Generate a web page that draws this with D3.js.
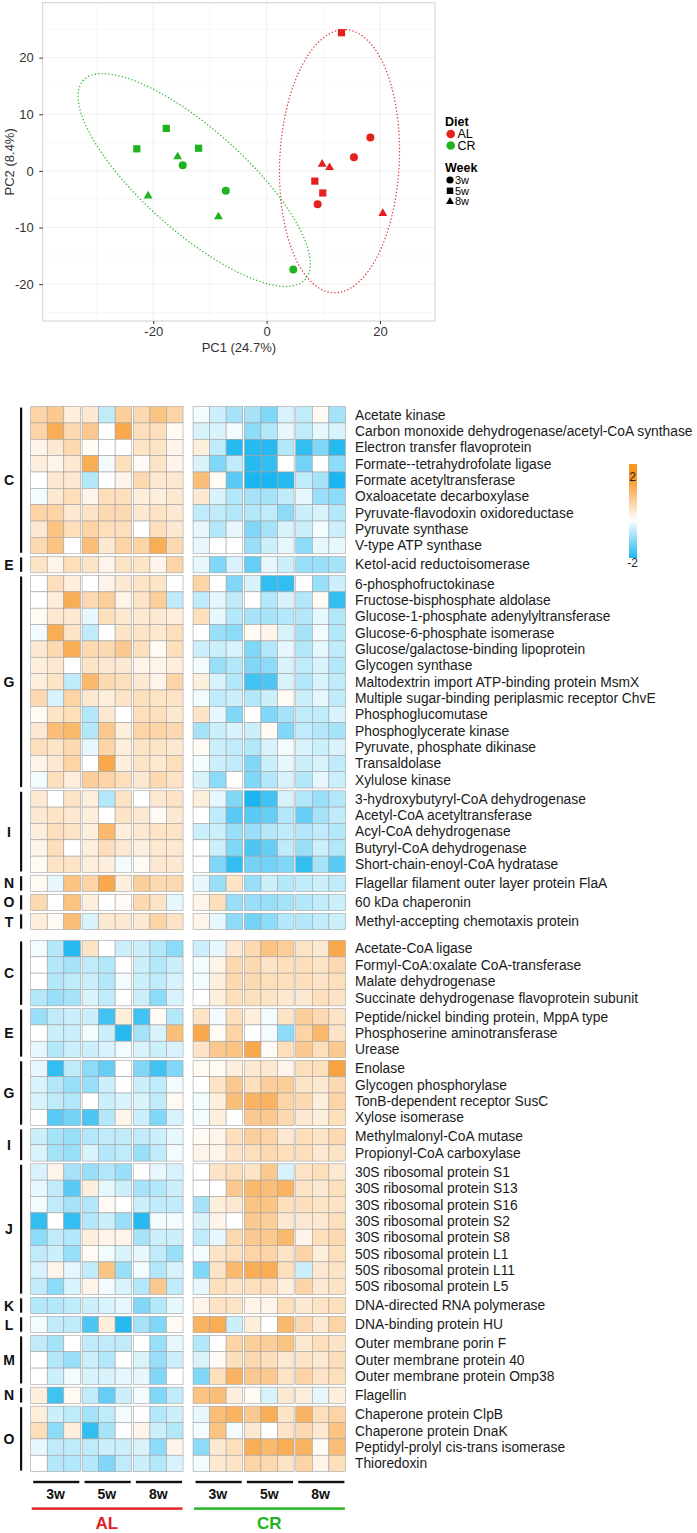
<!DOCTYPE html>
<html><head><meta charset="utf-8">
<script src="https://cdn.jsdelivr.net/npm/d3@7"></script>
<style>body{margin:0;background:#fff} svg{display:block;font-family:"Liberation Sans",Arial,Helvetica,sans-serif}</style>
</head><body><svg id="chart" width="697" height="1533"></svg>
<script>
// ---------------- PCA data ----------------
const pcaDiet = ["CR","CR","CR","CR","CR","CR","CR","CR","CR","AL","AL","AL","AL","AL","AL","AL","AL","AL"];
const pcaWeek = ["5w","5w","5w","8w","3w","3w","8w","8w","3w","5w","3w","3w","8w","8w","5w","5w","3w","8w"];
const pcaPC1 = [-22.9,-17.7,-12.0,-15.7,-14.8,-7.2,-20.9,-8.5,4.7, 13.2,18.3,15.4,9.8,11.1,8.5,9.9,9.0,20.5];
const pcaPC2 = [3.9,7.5,4.0,2.5,1.0,-3.5,-4.4,-8.1,-17.4, 24.4,5.9,2.4,1.2,0.6,-1.8,-3.9,-5.9,-7.5];
const pcaXTicks = [-20,0,20];
const pcaYTicks = [-20,-10,0,10,20];
const dietLevels = ["AL","CR"];
const weekLevels = ["3w","5w","8w"];

// ---------------- Heatmap data ----------------
const colDiet = ["AL","AL","AL","AL","AL","AL","AL","AL","AL","CR","CR","CR","CR","CR","CR","CR","CR","CR"];
const colWeek = ["3w","3w","3w","5w","5w","5w","8w","8w","8w","3w","3w","3w","5w","5w","5w","8w","8w","8w"];

const topGroups = ["C","E","G","I","N","O","T"];
const topGroupSizes = [9,1,13,5,1,1,1];
const topProteins = [
 "Acetate kinase","Carbon monoxide dehydrogenase/acetyl-CoA synthase","Electron transfer flavoprotein",
 "Formate--tetrahydrofolate ligase","Formate acetyltransferase","Oxaloacetate decarboxylase",
 "Pyruvate-flavodoxin oxidoreductase","Pyruvate synthase","V-type ATP synthase",
 "Ketol-acid reductoisomerase",
 "6-phosphofructokinase","Fructose-bisphosphate aldolase","Glucose-1-phosphate adenylyltransferase",
 "Glucose-6-phosphate isomerase","Glucose/galactose-binding lipoprotein","Glycogen synthase",
 "Maltodextrin import ATP-binding protein MsmX","Multiple sugar-binding periplasmic receptor ChvE",
 "Phosphoglucomutase","Phosphoglycerate kinase","Pyruvate, phosphate dikinase","Transaldolase","Xylulose kinase",
 "3-hydroxybutyryl-CoA dehydrogenase","Acetyl-CoA acetyltransferase","Acyl-CoA dehydrogenase",
 "Butyryl-CoA dehydrogenase","Short-chain-enoyl-CoA hydratase",
 "Flagellar filament outer layer protein FlaA","60 kDa chaperonin","Methyl-accepting chemotaxis protein"
];
const topValues = [
 [0.8,1.0,0.3, 0.4,-0.5,0.9, 0.7,1.1,0.8, -0.1,-0.4,-0.7, -0.7,-1.0,-0.3, -0.5,0.1,-0.7],
 [0.8,1.5,0.7, 1.0,0.0,1.6, 0.6,0.6,0.1, -0.3,-0.3,-0.1, -0.9,-0.6,-0.2, -0.5,-0.2,-0.3],
 [0.2,0.4,0.7, 0.1,0.0,0.0, 0.5,0.5,0.2, 0.3,-0.5,-1.7, -1.7,-1.7,-0.6, -1.6,-1.0,-1.7],
 [0.3,0.2,0.4, 1.5,-0.1,0.6, 0.1,0.5,0.2, -0.3,-1.0,-0.5, -1.7,-1.6,0.0, -1.1,0.0,-0.9],
 [0.0,0.4,0.4, -0.6,0.0,0.2, 0.7,0.4,0.4, 1.2,0.1,-1.3, -1.8,-1.8,-1.7, -0.5,-0.7,-1.8],
 [-0.1,0.4,0.6, 0.2,0.6,0.6, 0.3,0.3,0.4, 0.4,-0.3,-0.6, -0.7,-0.7,-0.5, -0.2,-0.8,-0.9],
 [0.8,0.8,0.4, 0.5,0.7,0.7, 0.4,0.5,0.4, -0.5,-0.5,-0.6, -0.6,-0.5,-0.9, -0.4,-0.3,-0.6],
 [0.4,1.1,0.6, 0.8,0.6,0.6, 0.0,0.6,0.4, -0.2,-0.6,-0.2, -1.0,-0.7,-0.3, -0.4,-0.1,-0.4],
 [0.7,1.1,0.0, 1.2,0.4,0.8, 0.8,1.5,0.7, -0.2,0.0,0.0, -0.8,-0.4,-0.2, -0.9,-0.2,-0.2],
 [0.5,0.2,0.6, 0.5,0.2,0.5, 0.5,0.2,0.8, -0.2,-1.0,-0.3, -1.2,-0.2,-0.4, -0.8,-0.8,-0.7],
 [0.0,0.6,0.3, 0.0,0.2,0.4, 0.5,0.5,0.0, 0.8,0.0,-1.0, -0.3,-1.6,-1.6, 0.0,-0.8,-0.4],
 [0.0,0.3,1.5, 0.7,0.9,0.2, 0.5,0.9,-0.5, -0.5,-0.2,-0.5, 0.0,-0.6,-0.3, -0.6,0.1,-1.6],
 [0.1,0.4,0.4, -0.2,0.6,0.4, 0.4,0.4,0.3, 0.6,-0.2,-0.6, -0.7,-0.7,-0.6, -0.6,-0.2,-0.6],
 [-0.1,1.5,0.5, -0.5,0.0,0.5, 0.5,0.4,0.6, 0.0,-0.8,-0.9, 0.1,0.2,-0.3, -0.7,-0.1,-0.6],
 [0.4,0.7,1.5, 0.7,0.7,1.0, 0.6,0.1,0.6, -0.4,-0.4,-0.3, -1.0,-0.6,-0.2, -0.6,-0.2,-0.5],
 [0.3,0.4,0.0, 0.5,0.4,0.4, 0.2,0.2,0.3, -0.1,-0.8,-0.6, -1.0,-0.9,-0.3, -0.5,-0.3,-0.6],
 [0.3,0.5,-0.5, 1.3,0.7,0.6, 0.4,0.2,0.8, 0.3,-0.3,-0.6, -1.5,-1.4,-0.3, -0.6,-0.3,-0.5],
 [0.7,-0.3,0.8, 0.4,0.3,0.5, 0.6,0.5,0.5, -0.1,-0.5,-0.4, -0.6,-0.4,0.1, -0.4,-0.2,-0.5],
 [0.1,0.5,0.6, -0.6,0.4,0.0, 0.6,0.6,0.4, 0.5,-0.2,-1.0, 0.0,-1.0,-0.7, -0.5,-0.5,-0.3],
 [0.4,1.2,1.3, -0.6,1.0,0.3, 0.8,0.8,0.7, -0.7,-0.4,-0.3, -0.4,0.1,-1.0, -0.5,-0.6,-0.7],
 [0.6,0.5,0.7, -0.2,0.8,0.3, 0.5,0.5,0.4, 0.1,-0.4,-0.5, -0.6,-0.3,-0.1, -0.3,-0.4,-0.3],
 [0.2,0.4,0.8, 0.0,1.6,0.3, 0.5,0.4,0.6, -0.1,-0.4,-0.5, -1.0,-0.4,-0.2, -0.4,-0.3,-0.5],
 [-0.1,0.6,0.3, 0.9,0.8,0.6, 0.4,0.7,0.5, -0.3,-0.9,0.0, -1.0,-0.6,-0.3, -0.6,-0.2,-0.4],
 [0.4,0.0,0.5, 0.3,-0.6,0.5, 0.0,0.4,0.5, 0.3,-0.2,-1.0, -1.8,-1.5,-0.3, -0.6,-0.8,-0.6],
 [0.4,0.5,0.4, 0.3,0.0,0.5, 0.4,0.1,0.4, 0.0,-0.5,-1.3, -1.3,-1.2,-0.6, -1.2,-0.7,-0.5],
 [0.3,0.6,0.5, 0.3,1.3,0.3, 0.4,0.5,0.5, -0.4,-0.4,-0.8, -0.8,-0.6,-0.5, -0.6,-0.5,-0.6],
 [0.2,0.6,0.0, 0.3,0.6,0.4, 0.3,0.4,0.4, 0.0,-0.4,-1.0, -1.4,-1.2,-0.5, -0.8,-0.4,-0.6],
 [0.1,0.5,0.5, 0.3,0.3,-0.1, 0.1,0.4,0.4, 0.0,-1.0,-1.6, -1.1,-1.1,-1.0, -1.6,-0.7,-1.3],
 [0.1,-0.2,1.1, 0.8,1.6,0.3, 0.9,0.7,0.7, -0.2,-0.8,0.5, -0.8,-0.4,-0.6, -0.5,-0.4,-0.5],
 [0.7,0.0,1.1, 0.3,0.0,0.1, 0.7,0.5,-0.2, 0.2,0.6,-0.8, -0.8,-0.8,-0.7, -0.6,-0.5,-0.4],
 [0.3,0.1,1.2, -0.3,0.4,0.4, 0.4,0.8,0.5, 0.2,-0.2,-0.9, -1.1,-0.9,-0.6, -0.6,-0.5,-0.4]
];

const bottomGroups = ["C","E","G","I","J","K","L","M","N","O"];
const bottomGroupSizes = [4,3,4,2,8,1,1,3,1,4];
const bottomProteins = [
 "Acetate-CoA ligase","Formyl-CoA:oxalate CoA-transferase","Malate dehydrogenase","Succinate dehydrogenase flavoprotein subunit",
 "Peptide/nickel binding protein, MppA type","Phosphoserine aminotransferase","Urease",
 "Enolase","Glycogen phosphorylase","TonB-dependent receptor SusC","Xylose isomerase",
 "Methylmalonyl-CoA mutase","Propionyl-CoA carboxylase",
 "30S ribosomal protein S1","30S ribosomal protein S13","30S ribosomal protein S16","30S ribosomal protein S2",
 "30S ribosomal protein S8","50S ribosomal protein L1","50S ribosomal protein L11","50S ribosomal protein L5",
 "DNA-directed RNA polymerase","DNA-binding protein HU",
 "Outer membrane porin F","Outer membrane protein 40","Outer membrane protein Omp38",
 "Flagellin",
 "Chaperone protein ClpB","Chaperone protein DnaK","Peptidyl-prolyl cis-trans isomerase","Thioredoxin"
];
const bottomValues = [
 [-0.1,-0.6,-1.7, 0.5,0.0,-0.4, -0.4,-0.6,-0.9, -0.4,-0.2,0.4, 0.7,1.1,0.9, 0.5,0.4,1.6],
 [0.0,-0.6,-0.7, -0.5,-0.6,0.0, -0.4,-0.6,-0.4, -0.1,0.2,0.7, 0.7,0.5,0.6, 0.6,0.5,0.7],
 [0.0,-0.6,-0.5, -0.4,-0.6,-0.1, -0.4,-0.5,-0.3, -0.1,0.3,0.7, 0.7,0.6,0.6, 0.6,0.5,0.6],
 [-0.6,-0.8,-0.7, -0.3,-0.5,0.0, -0.4,-0.9,-0.3, 0.0,0.3,0.6, 0.6,0.5,0.4, 0.4,0.6,0.5],
 [-0.8,-0.5,-0.4, -0.4,-1.5,0.3, -1.5,0.1,-0.6, 0.5,-0.1,0.6, 0.3,-0.1,0.5, 0.9,0.7,0.5],
 [0.0,-0.4,-0.4, -0.1,-0.4,-1.7, -0.7,-0.3,1.2, 1.6,0.1,0.8, 0.0,-0.1,-0.9, 0.8,1.3,0.5],
 [-0.2,-0.6,-0.4, -0.4,-0.3,-0.1, -0.3,-0.4,-0.3, 0.5,1.0,1.1, 1.6,0.1,0.6, 1.0,0.6,1.0],
 [-0.2,-1.6,-0.5, -0.9,-1.2,0.0, -1.0,-1.5,-1.0, 0.1,0.1,0.3, 0.4,0.4,0.2, 0.6,0.6,1.7],
 [-0.3,-0.6,-0.8, -0.8,-0.4,0.0, -0.4,-0.5,-0.1, 0.0,0.5,1.0, 0.6,0.9,0.9, 0.5,0.4,0.7],
 [-0.3,-0.5,-0.6, 0.0,-0.4,-0.3, -0.3,-0.5,0.1, -0.1,0.3,1.2, 1.4,1.4,0.8, 0.7,0.3,0.8],
 [0.0,-1.3,-1.1, -1.4,-0.6,0.2, -0.4,-1.0,-0.3, -0.1,0.3,0.0, 1.0,1.0,0.7, 0.4,0.3,0.6],
 [-0.4,-0.7,-0.8, -0.6,-0.5,-0.5, -0.5,-0.4,-0.2, 0.1,0.2,0.6, 0.9,0.8,0.4, 0.6,0.5,0.7],
 [-0.3,-0.7,-0.8, -0.3,-0.6,-0.5, -0.8,-0.5,-0.1, 0.2,0.2,0.5, 0.6,0.7,0.6, 0.6,0.4,0.5],
 [-0.3,0.2,-0.7, -0.8,-0.6,-0.8, 0.0,-0.2,-0.3, 0.0,0.5,0.6, 0.5,1.0,-0.3, 0.5,0.6,0.4],
 [-0.2,-0.5,-1.3, 0.3,-0.2,-0.4, -0.7,-0.6,-0.4, 0.0,0.0,1.0, 1.3,1.2,1.4, 0.5,0.4,0.6],
 [-0.1,-0.5,-0.7, -0.6,0.1,0.0, -0.4,-0.5,-0.5, -0.7,0.3,0.4, 1.1,1.1,0.6, 0.6,0.5,0.5],
 [-1.6,0.0,-1.6, -0.6,-0.4,-0.8, -1.7,-0.1,-0.1, -0.3,0.2,0.0, 1.0,0.9,0.4, 0.4,0.4,0.6],
 [-0.9,-0.5,-0.6, 0.3,0.2,0.2, -0.7,-0.4,-0.4, -0.5,-0.2,0.7, 1.0,1.0,1.3, 0.2,0.6,0.7],
 [-0.5,-0.4,-0.8, 0.1,-0.1,-0.3, -0.2,-0.5,-0.8, -0.1,0.5,0.6, 0.8,0.8,0.5, 0.8,0.3,0.6],
 [-0.3,0.2,-0.2, -0.5,1.1,-0.8, -0.1,-0.6,-0.3, -1.0,0.5,1.3, 1.5,1.5,0.6, -0.4,0.4,0.5],
 [-0.5,-0.9,-0.3, 0.2,-0.1,-0.3, -0.6,1.0,-0.5, -0.2,0.6,0.5, 0.6,0.6,0.3, 0.8,0.4,0.5],
 [-0.6,-0.6,-0.5, -0.4,-0.3,-0.2, -1.0,-0.6,-0.2, 0.2,0.5,0.5, 0.2,0.2,0.6, 0.4,0.5,0.6],
 [-0.1,-0.5,-0.5, -1.4,0.3,-1.7, -0.7,-1.0,0.1, 1.4,1.5,-0.4, 0.3,0.0,1.3, 0.7,0.4,0.8],
 [-0.5,-0.7,0.0, -0.5,-0.5,-0.5, 0.0,-0.8,-0.2, -0.6,0.0,0.8, 0.9,0.9,1.1, 0.4,0.6,0.5],
 [0.0,-0.6,-0.8, -0.4,-0.6,0.0, -0.3,-0.8,-0.4, -0.3,0.1,0.6, 0.7,0.6,0.4, 0.5,0.4,0.6],
 [0.0,-0.4,-0.1, -0.3,-0.3,-0.2, -0.2,-1.0,0.0, -1.0,0.6,1.4, 1.0,1.0,0.5, 0.8,0.5,0.6],
 [0.3,-1.5,0.1, -0.5,-1.2,-0.4, -0.1,-1.0,-0.5, 1.1,1.2,0.3, 0.1,-0.3,0.4, 0.3,-0.2,0.3],
 [0.3,-0.4,-0.5, -0.7,-0.5,-0.1, 0.0,-0.6,-0.4, -0.2,1.2,1.4, 1.0,1.5,0.5, 1.4,0.6,0.8],
 [0.6,-0.9,0.3, -1.6,-0.7,0.0, 0.2,-0.4,-0.6, -0.1,1.1,-0.1, 0.4,0.0,0.5, 0.7,0.4,1.1],
 [-0.2,-0.5,-0.5, -0.5,-0.4,-0.4, -0.3,-0.9,0.2, -0.9,0.4,0.6, 1.5,1.3,1.5, 1.4,0.1,1.2],
 [0.0,-0.6,-0.6, -0.6,-1.0,-0.5, -0.4,-0.6,-0.3, -0.1,0.4,0.5, 0.8,0.7,0.5, 0.8,0.2,0.6]
];
const legendTicks = [2,-2];

// ---------------- drawing ----------------
const svg = d3.select("#chart");
const FONT = '"Liberation Sans",Arial,Helvetica,sans-serif';
const dietColor = d3.scaleOrdinal().domain(dietLevels).range(["#e3211f","#1fb41f"]);
const weekShape = d3.scaleOrdinal().domain(weekLevels).range([d3.symbolCircle,d3.symbolSquare,d3.symbolTriangle]);
const weekSize = d3.scaleOrdinal().domain(weekLevels).range([50,52,34]);

// PCA panel
const pL = 42.7, pR = 435, pT = 2.7, pB = 321;
const xS = d3.scaleLinear().domain([-39.5,29.7]).range([pL,pR]);
const yS = d3.scaleLinear().domain([-26.5,29.7]).range([pB,pT]);
const pca = svg.append("g");
pca.append("rect").attr("x",pL).attr("y",pT).attr("width",pR-pL).attr("height",pB-pT).attr("fill","#fff");
const xMinor = [-30,-10,10], yMinor = [-25,-15,-5,5,15,25];
pca.selectAll(".vmin").data(xMinor).join("line").attr("x1",d=>xS(d)).attr("x2",d=>xS(d)).attr("y1",pT).attr("y2",pB).attr("stroke","#f4f4f4").attr("stroke-width",0.6);
pca.selectAll(".hmin").data(yMinor).join("line").attr("y1",d=>yS(d)).attr("y2",d=>yS(d)).attr("x1",pL).attr("x2",pR).attr("stroke","#f4f4f4").attr("stroke-width",0.6);
pca.selectAll(".vmaj").data(pcaXTicks).join("line").attr("x1",d=>xS(d)).attr("x2",d=>xS(d)).attr("y1",pT).attr("y2",pB).attr("stroke","#ebebeb").attr("stroke-width",0.9);
pca.selectAll(".hmaj").data(pcaYTicks).join("line").attr("y1",d=>yS(d)).attr("y2",d=>yS(d)).attr("x1",pL).attr("x2",pR).attr("stroke","#ebebeb").attr("stroke-width",0.9);

// ellipses (95% normal, chi-square 2 df)
const chi2 = 5.991;
dietLevels.forEach(dt=>{
  const idx = d3.range(pcaDiet.length).filter(i=>pcaDiet[i]===dt);
  const xs = idx.map(i=>pcaPC1[i]), ys = idx.map(i=>pcaPC2[i]);
  const n = xs.length, mx = d3.mean(xs), my = d3.mean(ys);
  let sxx=0,syy=0,sxy=0;
  for(let k=0;k<n;k++){sxx+=(xs[k]-mx)**2;syy+=(ys[k]-my)**2;sxy+=(xs[k]-mx)*(ys[k]-my);}
  sxx/=(n-1);syy/=(n-1);sxy/=(n-1);
  const tr=sxx+syy, det=sxx*syy-sxy*sxy, disc=Math.sqrt(tr*tr/4-det);
  const l1=tr/2+disc, l2=tr/2-disc;
  const a=Math.atan2(l1-sxx,sxy);
  const r=Math.sqrt(chi2), A=r*Math.sqrt(l1), B=r*Math.sqrt(l2);
  const pts=d3.range(0,361,2).map(dg=>{const t=dg*Math.PI/180;
    return [mx+A*Math.cos(t)*Math.cos(a)-B*Math.sin(t)*Math.sin(a), my+A*Math.cos(t)*Math.sin(a)+B*Math.sin(t)*Math.cos(a)];});
  pca.append("path").attr("d",d3.line().x(p=>xS(p[0])).y(p=>yS(p[1]))(pts))
    .attr("fill","none").attr("stroke",dietColor(dt)).attr("stroke-width",1.4)
    .attr("stroke-dasharray","0.1 3.3").attr("stroke-linecap","round").attr("opacity",0.9);
});
// points
pca.selectAll(".pt").data(d3.range(pcaDiet.length)).join("path")
  .attr("transform",i=>`translate(${xS(pcaPC1[i])},${yS(pcaPC2[i])})`)
  .attr("d",i=>d3.symbol().type(weekShape(pcaWeek[i])).size(weekSize(pcaWeek[i]))())
  .attr("fill",i=>dietColor(pcaDiet[i]));
pca.append("rect").attr("x",pL).attr("y",pT).attr("width",pR-pL).attr("height",pB-pT).attr("fill","none").attr("stroke","#cfcfcf").attr("stroke-width",1);

// axes
const xAx = pca.append("g").attr("transform",`translate(0,${pB})`).call(d3.axisBottom(xS).tickValues(pcaXTicks).tickSize(3).tickPadding(3).tickFormat(d3.format("d")));
const yAx = pca.append("g").attr("transform",`translate(${pL},0)`).call(d3.axisLeft(yS).tickValues(pcaYTicks).tickSize(3.4).tickPadding(5.5).tickFormat(d3.format("d")));
[xAx,yAx].forEach(g=>{g.select(".domain").remove();g.selectAll("line").attr("stroke","#333");
  g.selectAll("text").attr("font-family",FONT).attr("font-size",13).attr("fill","#333");});
xAx.selectAll("text").text(d=>d<0?"-"+Math.abs(d):d);
yAx.selectAll("text").text(d=>d<0?"-"+Math.abs(d):d);
pca.append("text").attr("x",(pL+pR)/2).attr("y",347).attr("dy","0.35em").attr("text-anchor","middle").attr("font-size",13).attr("fill","#333").text("PC1 (24.7%)");
pca.append("text").attr("transform",`translate(9.5,${(pT+pB)/2}) rotate(-90)`).attr("dy","0.35em").attr("text-anchor","middle").attr("font-size",13).attr("fill","#333").text("PC2 (8.4%)");

// PCA legend
const lg = svg.append("g");
lg.append("text").attr("x",445).attr("y",121.5).attr("dy","0.35em").attr("font-size",12.5).attr("font-weight","bold").text("Diet");
dietLevels.forEach((d,i)=>{
  const y=134+i*11.5;
  lg.append("circle").attr("cx",450.7).attr("cy",y).attr("r",4.3).attr("fill",dietColor(d));
  lg.append("text").attr("x",457.5).attr("y",y).attr("dy","0.35em").attr("font-size",12.5).text(d);
});
lg.append("text").attr("x",445).attr("y",167.3).attr("dy","0.35em").attr("font-size",12.5).attr("font-weight","bold").text("Week");
weekLevels.forEach((w,i)=>{
  const y=180+i*10.8;
  lg.append("path").attr("transform",`translate(450,${y})`).attr("d",d3.symbol().type(weekShape(w)).size(weekSize(w)*0.8)()).attr("fill","#000");
  lg.append("text").attr("x",455).attr("y",y).attr("dy","0.35em").attr("font-size",11).text(w);
});

// ---------------- heatmap ----------------
const colorScale = d3.scaleLinear().domain([-2,0,2]).range(["#00aeef","#ffffff","#f7931e"]).clamp(true).interpolate(d3.interpolateRgb);
const cellW = 16.55, cellH = 16.35;
const x0 = 30.7, weekGap = 1.7, dietGap = 10;
const y0 = 406.6, groupGap = 2.7, blockGap = 10.8;
const colScale = d3.scaleLinear().domain([0,colDiet.length]).range([0,colDiet.length*cellW]);
const rowScale = d3.scaleLinear().domain([0,1]).range([0,cellH]);
const colX = colDiet.map((d,i)=>{
  const wb = Math.floor(i/3), di = dietLevels.indexOf(d);
  return x0 + colScale(i) + wb*weekGap + di*(dietGap-weekGap);
});

const blocks = [
  {groups:topGroups,sizes:topGroupSizes,proteins:topProteins,values:topValues},
  {groups:bottomGroups,sizes:bottomGroupSizes,proteins:bottomProteins,values:bottomValues}
];
const hm = svg.append("g");
let cursor = y0;
blocks.forEach((blk,bi)=>{
  if(bi>0) cursor += blockGap;
  let r = 0;
  blk.groups.forEach((gName,gi)=>{
    if(gi>0) cursor += groupGap;
    const gTop = cursor;
    for(let k=0;k<blk.sizes[gi];k++){
      const y = cursor + rowScale(k);
      const vals = blk.values[r];
      hm.append("g").selectAll("rect").data(vals).join("rect")
        .attr("x",(v,c)=>colX[c]).attr("y",y).attr("width",cellW).attr("height",cellH)
        .attr("fill",v=>colorScale(v)).attr("stroke","#a3a3a3").attr("stroke-width",0.6);
      hm.append("text").attr("x",355).attr("y",y+cellH/2).attr("dy","0.35em")
        .attr("font-size",13.8).attr("fill","#1a1a1a").text(blk.proteins[r]);
      r++;
    }
    cursor += rowScale(blk.sizes[gi]);
    const gBot = cursor;
    hm.append("rect").attr("x",20).attr("y",gTop+1).attr("width",2.2).attr("height",gBot-gTop-2).attr("fill","#111");
    hm.append("text").attr("x",9).attr("y",(gTop+gBot)/2).attr("dy","0.36em").attr("text-anchor","middle")
      .attr("font-size",14).attr("font-weight","bold").attr("fill","#111").text(gName);
  });
});

// color legend
const legY = d3.scaleLinear().domain([-2,2]).range([563,477]);
const defs = svg.append("defs");
const grad = defs.append("linearGradient").attr("id","lg").attr("x1",0).attr("x2",0).attr("y1",1).attr("y2",0);
const legLo = -1.77, legHi = 2.6;
d3.range(0,1.0001,0.05).forEach(t=>{
  const v = legLo + t*(legHi-legLo);
  grad.append("stop").attr("offset",t).attr("stop-color",colorScale(v));
});
svg.append("rect").attr("x",629).attr("y",legY(legHi)).attr("width",8).attr("height",legY(legLo)-legY(legHi)).attr("fill","url(#lg)");
svg.selectAll(".lt").data(legendTicks).join("text").attr("x",632.5).attr("y",d=>legY(d)).attr("dy","0.35em")
  .attr("text-anchor","middle").attr("font-size",12).attr("fill","#222").text(d=>d<0?"-"+Math.abs(d):d);

// bottom annotations
const ann = svg.append("g");
const weekBlocks = d3.range(6);
weekBlocks.forEach(wb=>{
  const xa = colX[wb*3], xb = colX[wb*3+2]+cellW;
  ann.append("rect").attr("x",xa+2.5).attr("y",1480.8).attr("width",xb-xa-3.5).attr("height",2.4).attr("fill","#111");
  ann.append("text").attr("x",(xa+xb)/2).attr("y",1494.3).attr("dy","0.36em").attr("text-anchor","middle")
    .attr("font-size",14).attr("font-weight","bold").attr("fill","#111").text(colWeek[wb*3]);
});
dietLevels.forEach((d,di)=>{
  const xa = colX[di*9], xb = colX[di*9+8]+cellW;
  ann.append("rect").attr("x",xa+1).attr("y",1507.4).attr("width",xb-xa-1.5).attr("height",2.4).attr("fill",dietColor(d));
  ann.append("text").attr("x",(xa+xb)/2).attr("y",1522.6).attr("dy","0.35em").attr("text-anchor","middle")
    .attr("font-size",17).attr("font-weight","bold").attr("fill",dietColor(d)).text(d);
});
</script></body></html>
